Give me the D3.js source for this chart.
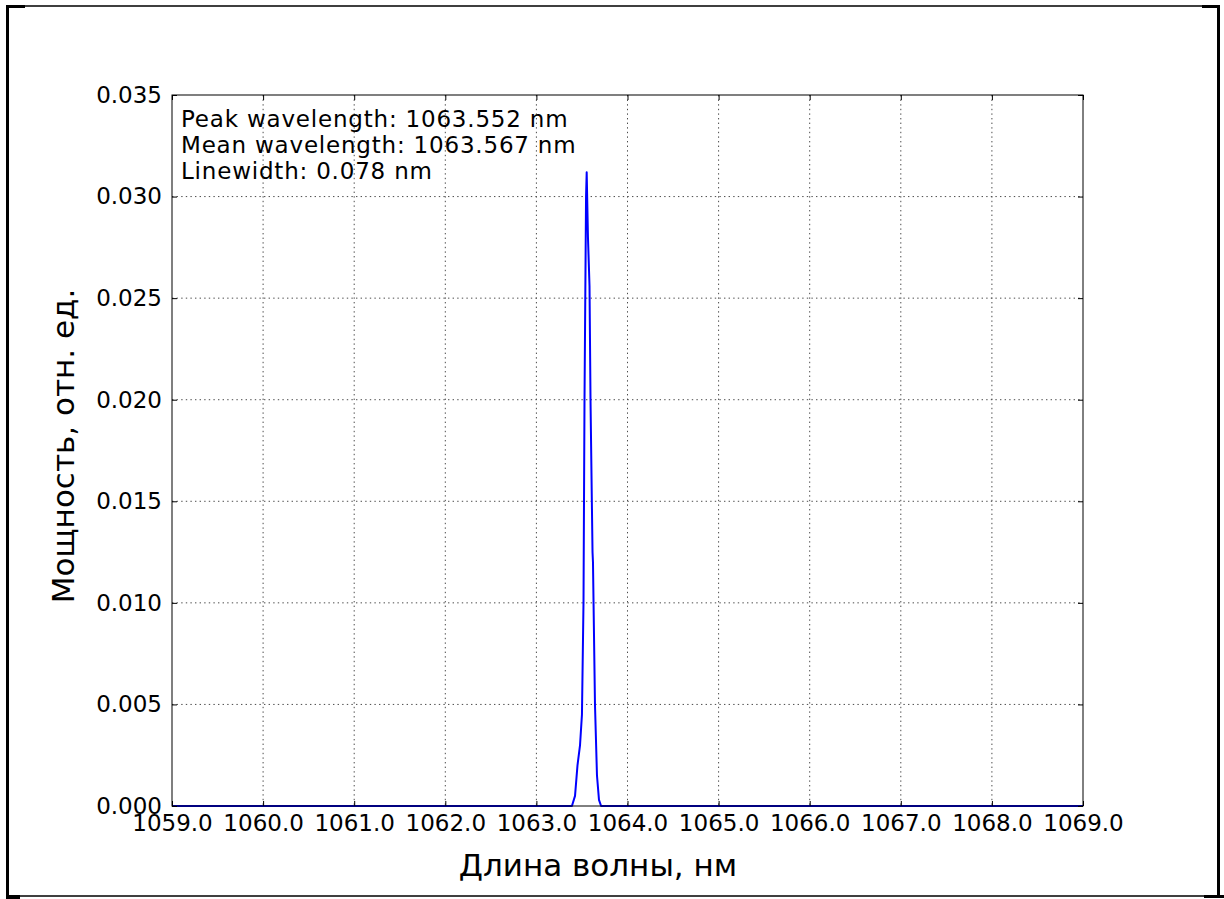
<!DOCTYPE html>
<html>
<head>
<meta charset="utf-8">
<script src="https://cdn.jsdelivr.net/npm/d3@7"></script>
<style>
  body { margin: 0; background: #fff; }
  svg { display: block; }
  text { font-family: "DejaVu Sans", sans-serif; fill: #000; }
</style>
</head>
<body>
<svg width="1224" height="899"></svg>
<script>
// Spectrum (nm, relative power)
const wavelength = [1059.0, 1063.0, 1063.39, 1063.424, 1063.451, 1063.479, 1063.500, 1063.517,
    1063.528, 1063.545, 1063.552, 1063.566, 1063.583, 1063.594, 1063.616, 1063.621,
    1063.643, 1063.665, 1063.687, 1063.71, 1064.2, 1069.0]
const power = [0, 0, 0, 0.0005, 0.002, 0.003, 0.0045, 0.010,
    0.020, 0.030, 0.0312, 0.028, 0.0256, 0.020, 0.0125, 0.012,
    0.005, 0.0015, 0.0003, 0, 0, 0]

const xTicks = [1059, 1060, 1061, 1062, 1063, 1064, 1065, 1066, 1067, 1068, 1069]
const yTicks = [0, 0.005, 0.010, 0.015, 0.020, 0.025, 0.030, 0.035]
const notes = ["Peak wavelength: 1063.552 nm", "Mean wavelength: 1063.567 nm", "Linewidth: 0.078 nm"]

const svg = d3.select("svg")

// page frame
svg.append("rect").attr("x", 7).attr("y", 6).attr("width", 1211).attr("height", 890)
    .attr("fill", "none").attr("stroke", "#000").attr("stroke-width", 1.5)
svg.append("rect").attr("x", 6).attr("y", 5).attr("width", 19).attr("height", 3).attr("fill", "#000")
svg.append("rect").attr("x", 1202).attr("y", 5).attr("width", 17).attr("height", 3).attr("fill", "#000")
svg.append("rect").attr("x", 6).attr("y", 5).attr("width", 3).attr("height", 894).attr("fill", "#000")
svg.append("rect").attr("x", 1217).attr("y", 5).attr("width", 3).attr("height", 892).attr("fill", "#000")
svg.append("rect").attr("x", 6).attr("y", 895).attr("width", 14).attr("height", 4).attr("fill", "#000")
svg.append("rect").attr("x", 1204).attr("y", 895).attr("width", 20).attr("height", 3).attr("fill", "#000")

const pLeft = 172, pRight = 1083, pTop = 95, pBottom = 806

const x = d3.scaleLinear().domain([1059, 1069]).range([pLeft, pRight])
const y = d3.scaleLinear().domain([0, 0.035]).range([pBottom, pTop])

// grid
const grid = svg.append("g").attr("stroke", "#000").attr("stroke-width", 1)
    .attr("stroke-dasharray", "1.4,3.2").attr("opacity", 0.7)
grid.selectAll(".gx").data(xTicks.slice(1, -1)).join("line")
    .attr("x1", d => x(d)).attr("x2", d => x(d)).attr("y1", pTop).attr("y2", pBottom)
grid.selectAll(".gy").data(yTicks.slice(1, -1)).join("line")
    .attr("x1", pLeft).attr("x2", pRight).attr("y1", d => y(d)).attr("y2", d => y(d))

// spectrum
svg.append("path")
    .datum(wavelength.map((w, i) => [w, power[i]]))
    .attr("fill", "none").attr("stroke", "#0000ff").attr("stroke-width", 2)
    .attr("stroke-linejoin", "round")
    .attr("d", d3.line().x(d => x(d[0])).y(d => y(d[1])))

// axes, ticks inward on all four sides
const fmtX = d3.format(".1f"), fmtY = d3.format(".3f")
svg.append("g").attr("transform", `translate(0,${pBottom})`)
    .call(d3.axisBottom(x).tickValues(xTicks).tickFormat(fmtX).tickSizeInner(-5).tickSizeOuter(0).tickPadding(9))
svg.append("g").attr("transform", `translate(0,${pTop})`)
    .call(d3.axisTop(x).tickValues(xTicks).tickFormat("").tickSizeInner(-5).tickSizeOuter(0))
svg.append("g").attr("transform", `translate(${pLeft},0)`)
    .call(d3.axisLeft(y).tickValues(yTicks).tickFormat(fmtY).tickSizeInner(-5).tickSizeOuter(0).tickPadding(10))
svg.append("g").attr("transform", `translate(${pRight},0)`)
    .call(d3.axisRight(y).tickValues(yTicks).tickFormat("").tickSizeInner(-5).tickSizeOuter(0))
svg.selectAll(".domain").remove()
svg.selectAll(".tick line").attr("stroke", "#000")
svg.selectAll(".tick text").attr("font-family", "DejaVu Sans").attr("font-size", 23).attr("fill", "#000")

svg.append("rect").attr("x", pLeft).attr("y", pTop).attr("width", pRight - pLeft).attr("height", pBottom - pTop)
    .attr("fill", "none").attr("stroke", "#000").attr("stroke-width", 1)

// annotation
svg.append("g").selectAll("text").data(notes).join("text")
    .attr("x", 181).attr("y", (d, i) => 127 + i * 26)
    .attr("font-size", 23).attr("letter-spacing", 0.8).text(d => d)

// axis labels
svg.append("text").attr("x", 598).attr("y", 876).attr("text-anchor", "middle")
    .attr("font-size", 31).text("Длина волны, нм")
svg.append("text").attr("transform", "translate(74,446) rotate(-90)").attr("text-anchor", "middle")
    .attr("font-size", 31).text("Мощность, отн. ед.")
</script>
</body>
</html>
